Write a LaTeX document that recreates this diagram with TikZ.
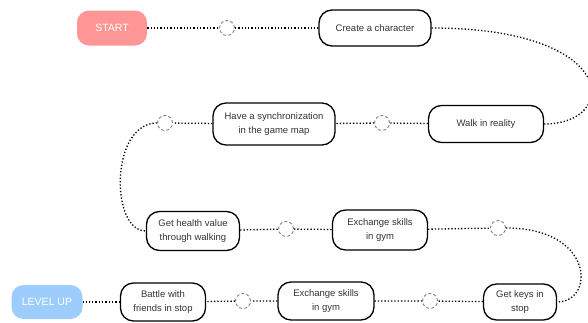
\documentclass[tikz,border=0pt]{standalone}
\usepackage{fontspec}
\setmainfont{Liberation Sans}
\definecolor{startpink}{HTML}{FF9696}
\definecolor{levelblue}{HTML}{9DCDFD}
\definecolor{textgray}{HTML}{333333}
\begin{document}
\begin{tikzpicture}[x=1pt,y=-1pt,
    stage/.style={draw, line width=1.3pt, rounded corners=13pt, align=center,
      text=textgray, font=\fontsize{9.5}{13.5}\selectfont, inner sep=0pt},
    endstage/.style={rounded corners=12pt, text=white, font=\fontsize{10.5}{12}\selectfont, inner sep=0pt},
    hub/.style={circle, draw=gray, dash pattern=on 3pt off 2.2pt, line width=0.9pt,
      minimum size=15pt, inner sep=0pt},
    link/.style={dotted, line width=1.3pt}]
    \useasboundingbox (0,0) rectangle (588,322);
    \node[endstage, fill=startpink, minimum width=70pt, minimum height=35pt] (start) at (112,28) {START};
    \node[stage, minimum width=112pt, minimum height=36pt] (create) at (375,28) {Create a character};
    \node[stage, minimum width=115pt, minimum height=37pt] (walk) at (486,124) {Walk in reality};
    \node[stage, minimum width=122pt, minimum height=42pt] (sync) at (274,124) {Have a synchronization\\in the game map};
    \node[stage, minimum width=93pt, minimum height=39pt] (health) at (193,231) {Get health value\\through walking};
    \node[stage, minimum width=95pt, minimum height=40pt] (gymtop) at (380,230) {Exchange skills\\in gym};
    \node[stage, minimum width=73pt, minimum height=36pt] (keys) at (520,302) {Get keys in\\stop};
    \node[stage, minimum width=96pt, minimum height=38pt] (gymlow) at (326,301) {Exchange skills\\in gym};
    \node[stage, minimum width=85pt, minimum height=38pt] (battle) at (163,302) {Battle with\\friends in stop};
    \node[endstage, fill=levelblue, minimum width=71pt, minimum height=34pt] (levelup) at (47,302) {LEVEL UP};
    \node[hub] (h1) at (227,28) {};
    \node[hub] (h2) at (382,123) {};
    \node[hub] (h3) at (165,123) {};
    \node[hub] (h4) at (286,229) {};
    \node[hub] (h5) at (498,228) {};
    \node[hub] (h6) at (430,301) {};
    \node[hub] (h7) at (243,301) {};
    \draw[link] (start) -- (h1) -- (create);
    \draw[link] (create.east) .. controls (620,28) and (620,124) .. (walk.east);
    \draw[link] (walk) -- (h2) -- (sync);
    \draw[link] (sync) -- (h3);
    \draw[link] (h3.west) .. controls (110,123) and (110,231) .. (health.west);
    \draw[link] (health) -- (h4) -- (gymtop);
    \draw[link] (gymtop) -- (h5);
    \draw[link] (h5.east) .. controls (595,228) and (595,302) .. (keys.east);
    \draw[link] (keys) -- (h6) -- (gymlow);
    \draw[link] (gymlow) -- (h7) -- (battle);
    \draw[link] (battle) -- (levelup);
\end{tikzpicture}
\end{document}
